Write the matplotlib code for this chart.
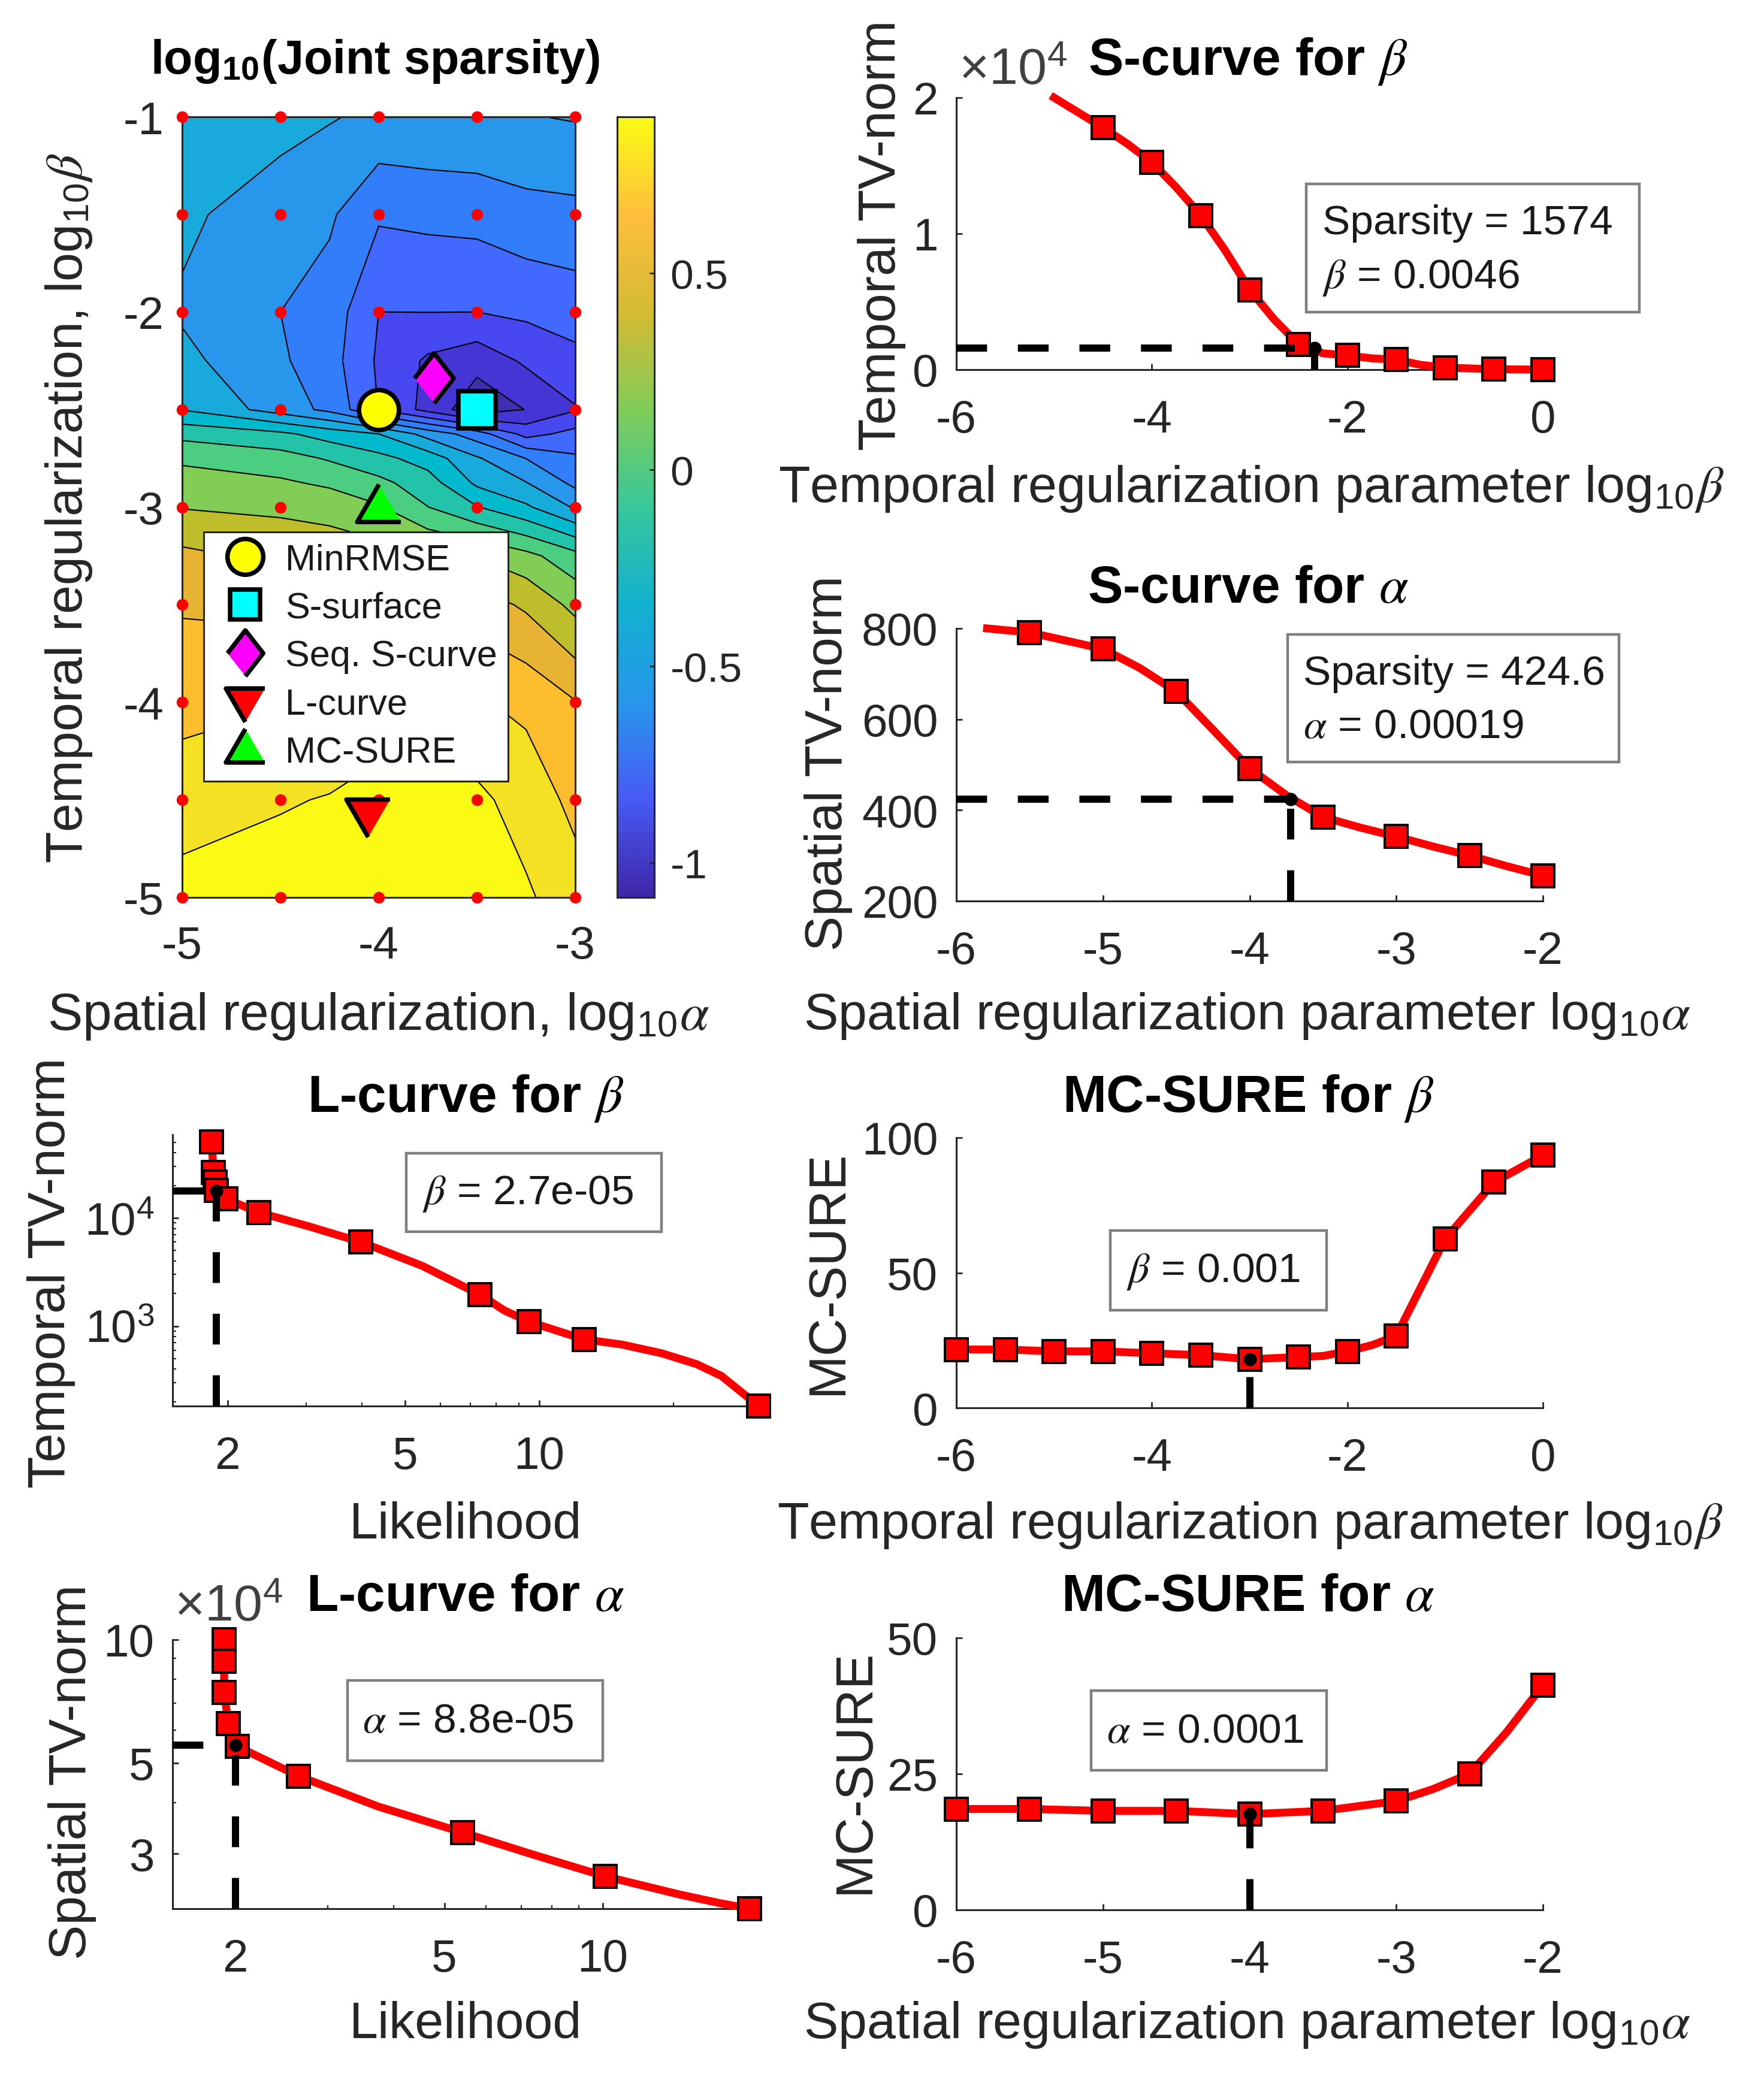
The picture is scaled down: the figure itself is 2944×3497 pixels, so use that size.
import numpy as np
import matplotlib
matplotlib.use('Agg')
from matplotlib import pyplot as plt
from matplotlib.colors import LinearSegmentedColormap, Normalize
from matplotlib.cm import ScalarMappable
from matplotlib.lines import Line2D
from matplotlib.markers import MarkerStyle
from matplotlib.patches import Rectangle
from matplotlib.ticker import LogLocator, NullFormatter

plt.rcParams['font.family'] = 'Liberation Sans'
plt.rcParams['mathtext.fontset'] = 'custom'
plt.rcParams['mathtext.rm'] = 'Liberation Sans'
plt.rcParams['mathtext.it'] = 'STIXGeneral:italic'
plt.rcParams['mathtext.bf'] = 'Liberation Sans:bold'
plt.rcParams['axes.unicode_minus'] = False

W, H = 2944, 3498
DARK = '#262626'

# joint sparsity map, rows follow spars_y, columns follow spars_x
spars_x = [-5, -4.5, -4.25, -4, -3.75, -3.5, -3.25, -3]
spars_y = [-5, -4.5, -4, -3.5, -3.25, -3, -2.875, -2.75, -2.625, -2.5, -2.25, -2, -1.5, -1]
spars_z = [
    [0.82, 0.84, 0.85, 0.87, 0.88, 0.875, 0.79, 0.70],
    [0.71, 0.76, 0.78, 0.83, 0.85, 0.80, 0.72, 0.615],
    [0.61, 0.64, 0.65, 0.68, 0.70, 0.66, 0.62, 0.53],
    [0.51, 0.49, 0.48, 0.47, 0.46, 0.46, 0.38, 0.24],
    [0.43, 0.37, 0.35, 0.33, 0.30, 0.27, 0.19, 0.07],
    [0.27, 0.25, 0.23, 0.165, 0.03, -0.09, -0.20, -0.36],
    [0.205, 0.17, 0.13, 0.06, -0.04, -0.245, -0.34, -0.50],
    [0.13, 0.08, 0.015, -0.06, -0.15, -0.33, -0.47, -0.575],
    [-0.01, -0.07, -0.15, -0.22, -0.39, -0.53, -0.76, -0.675],
    [-0.225, -0.40, -0.50, -0.72, -0.88, -1.05, -0.96, -0.85],
    [-0.31, -0.45, -0.54, -0.735, -0.86, -0.92, -0.82, -0.75],
    [-0.36, -0.468, -0.52, -0.716, -0.715, -0.716, -0.69, -0.66],
    [-0.32, -0.41, -0.45, -0.575, -0.56, -0.55, -0.51, -0.50],
    [-0.25, -0.30, -0.335, -0.37, -0.36, -0.355, -0.35, -0.335],
]
spars_levels = [-1.088, -0.964, -0.84, -0.716, -0.592, -0.468, -0.344, -0.22, -0.096,
                0.028, 0.152, 0.276, 0.40, 0.524, 0.648, 0.772, 0.898]
band_colors = ['#3F2FB0', '#4535D5', '#4848F0', '#4169FF', '#327DFA', '#2896EB', '#19AADC', '#00B9CD',
               '#23C3AA', '#4BCD82', '#82CD55', '#BEBE2D', '#E6B432', '#FCBE2D', '#F5E123', '#FAFA14']
parula_colors = ['#3E26A8', '#485BF5', '#2796EB', '#12B1CF', '#37C89A', '#81CC59', '#D4BB33', '#FDBE3D', '#F9FB15']
grid_x = [-5, -4.5, -4, -3.5, -3]
grid_y = [-5, -4.5, -4, -3.5, -3, -2.5, -2, -1.5, -1]

# selected parameters on the map
rmse_pt = (-4, -2.5)
ssurf_pt = (-3.5, -2.5)
seq_pt = (-3.72, -2.337)
lcurve_pt = (-4.056, -4.569)
sure_pt = (-4, -3)

# S-curve for beta (values in 1e4)
sb_line_x = [-5, -4.75, -4.5, -4.25, -4, -3.75, -3.5, -3.25, -3, -2.75, -2.5, -2.25, -2, -1.75, -1.5, -1.25, -1, -0.5, 0]
sb_line_y = [2.0, 1.89, 1.78, 1.66, 1.525, 1.34, 1.134, 0.876, 0.588, 0.37, 0.187, 0.12, 0.104, 0.083, 0.073, 0.035, 0.015, 0.003, 0.0]
sb_x = [-4.5, -4, -3.5, -3, -2.5, -2, -1.5, -1, -0.5, 0]
sb_y = [1.78, 1.525, 1.134, 0.588, 0.187, 0.104, 0.073, 0.015, 0.003, 0.0]

# S-curve for alpha
sa_line_x = [-5.79, -5.5, -5, -4.75, -4.5, -4.25, -4, -3.75, -3.5, -3.25, -3, -2.75, -2.5, -2.25, -2]
sa_line_y = [800, 791, 755, 713, 661, 577, 492, 433, 385, 362, 342, 320, 300, 277, 256]
sa_x = [-5.5, -5, -4.5, -4, -3.5, -3, -2.5, -2]
sa_y = [791, 755, 661, 492, 385, 342, 300, 256]

# L-curve for beta
lb_line_x = [1.845, 1.86, 1.875, 1.886, 1.985, 2.35, 3.03, 3.98, 5.47, 7.36, 8.35, 9.5, 12.6, 15.3, 18.8, 22.5, 25.6, 28.3, 31]
lb_line_y = [50800, 26350, 21400, 18000, 15040, 11250, 8410, 5997, 3600, 1955, 1393, 1094, 753, 675, 560, 445, 345, 247, 182]
lb_x = [1.845, 1.86, 1.875, 1.886, 1.985, 2.35, 3.98, 7.36, 9.5, 12.6, 31]
lb_y = [50800, 26350, 21400, 18000, 15040, 11250, 5997, 1955, 1094, 753, 182]

# MC-SURE for beta
mb_line_x = [-6, -5.5, -5, -4.5, -4, -3.5, -3, -2.5, -2.25, -2, -1.75, -1.5, -1, -0.75, -0.5, 0]
mb_line_y = [21.6, 21.6, 20.9, 20.9, 20.2, 19.5, 18, 18.8, 19.2, 20.9, 23.2, 26.6, 62.5, 73, 83.5, 93.5]
mb_x = [-6, -5.5, -5, -4.5, -4, -3.5, -3, -2.5, -2, -1.5, -1, -0.5, 0]
mb_y = [21.6, 21.6, 20.9, 20.9, 20.2, 19.5, 18, 18.8, 20.9, 26.6, 62.5, 83.5, 93.5]

# L-curve for alpha (values in 1e4)
la_line_x = [1.905, 1.905, 1.905, 1.94, 2.02, 2.64, 3.74, 5.41, 7.33, 10.1, 14.06, 16.7, 19.06]
la_line_y = [10.0, 8.85, 7.44, 6.24, 5.48, 4.64, 3.91, 3.38, 2.99, 2.64, 2.38, 2.27, 2.2]
la_x = [1.905, 1.905, 1.905, 1.94, 2.02, 2.64, 5.41, 10.1, 19.06]
la_y = [10.0, 8.85, 7.44, 6.24, 5.48, 4.64, 3.38, 2.64, 2.2]

# MC-SURE for alpha
ma_line_x = [-6, -5.5, -5, -4.5, -4, -3.5, -3, -2.75, -2.5, -2.25, -2]
ma_line_y = [18.55, 18.55, 18.2, 18.2, 17.6, 18.2, 20.0, 22.2, 25, 32.6, 41.3]
ma_x = [-6, -5.5, -5, -4.5, -4, -3.5, -3, -2.5, -2]
ma_y = [18.55, 18.55, 18.2, 18.2, 17.6, 18.2, 20.0, 25, 41.3]

TRI_UP = MarkerStyle([(0, 0.62), (-0.58, -0.38), (0.58, -0.38)], joinstyle='miter')
TRI_DOWN = MarkerStyle([(0, -0.62), (-0.58, 0.38), (0.58, 0.38)], joinstyle='miter')
THIN_DIAMOND = MarkerStyle([(-0.39, 0), (0, 0.5), (0.39, 0), (0, -0.5)], joinstyle='miter')


def px_axes(fig, x0, x1, y0, y1):
    return fig.add_axes([x0 / W, 1 - y1 / H, (x1 - x0) / W, (y1 - y0) / H])


def put(fig, x, y, s, **kw):
    kw.setdefault('color', DARK)
    return fig.text(x / W, 1 - y / H, s, **kw)


def put_ylabel(fig, x, y, s, size=63):
    put(fig, x, y, s, rotation=90, rotation_mode='anchor', ha='center', va='baseline', fontsize=size)


def put_xlabel(fig, x, y, s, size=62):
    put(fig, x, y, s, ha='center', va='baseline', fontsize=size)


def put_title(fig, x, y, s, size=63):
    put(fig, x, y, s, ha='center', va='baseline', fontsize=size, fontweight='bold', color='black')


def put_box(fig, x0, x1, y0, y1, lines):
    fig.add_artist(Rectangle((x0 / W, 1 - y1 / H), (x1 - x0) / W, (y1 - y0) / H, transform=fig.transFigure,
                             facecolor='white', edgecolor='#7f7f7f', linewidth=3.2, zorder=2))
    for tx, ty, s in lines:
        put(fig, tx, ty, s, fontsize=50, color='#1a1a1a', zorder=3)


def style_curve(ax, size=55):
    ax.spines['top'].set_visible(False)
    ax.spines['right'].set_visible(False)
    for side in ['left', 'bottom']:
        ax.spines[side].set_color(DARK)
        ax.spines[side].set_linewidth(2.2)
    ax.tick_params(which='major', direction='in', length=7, width=2, color=DARK, labelcolor=DARK,
                   labelsize=size, pad=22)
    ax.tick_params(axis='x', which='major', pad=35)
    ax.tick_params(which='minor', direction='in', length=4, width=1.5, color=DARK)
    ax.patch.set_alpha(0)


def draw_curve(ax, line_x, line_y, xs, ys, knee_x, knee_y, x_start, y_start):
    ax.plot(line_x, line_y, color='red', lw=9.5, clip_on=False, zorder=4)
    ax.plot(xs, ys, ls='none', marker='s', ms=28, mfc='red', mec='black', mew=2.8, clip_on=False, zorder=5)
    dash = (0, (4.3, 4.3))
    ax.plot([x_start, knee_x], [knee_y, knee_y], color='black', lw=8.6, ls=dash, dash_capstyle='butt', zorder=6)
    ax.plot([knee_x, knee_x], [y_start, knee_y], color='black', lw=8.6, ls=dash, dash_capstyle='butt', zorder=6)
    ax.plot([knee_x], [knee_y], ls='none', marker='o', ms=15, color='black', zorder=7)


def log_minor(axis):
    axis.set_minor_locator(LogLocator(base=10, subs=np.arange(1, 10) * 1.0, numticks=12))
    axis.set_minor_formatter(NullFormatter())


def sparsity_panel(fig):
    ax = px_axes(fig, 304, 960, 196, 1499)
    ax.contourf(spars_x, spars_y, spars_z, levels=spars_levels, colors=band_colors)
    ax.contour(spars_x, spars_y, spars_z, levels=spars_levels[1:-1], colors='black', linewidths=1.5,
               linestyles='solid')
    ax.set_xlim(-5, -3)
    ax.set_ylim(-5, -1)
    ax.set_xticks([-5, -4, -3])
    ax.set_xticklabels(['-5', '-4', '-3'])
    ax.set_yticks([-5, -4, -3, -2, -1])
    ax.set_yticklabels(['-5', '-4', '-3', '-2', '-1'])
    ax.tick_params(direction='in', length=7, width=2, color=DARK, labelcolor=DARK, labelsize=55, pad=22)
    ax.tick_params(axis='x', pad=33)
    ax.set_axisbelow(False)
    for s in ax.spines.values():
        s.set_color(DARK)
        s.set_linewidth(2.2)
        s.set_zorder(3)

    gx, gy = np.meshgrid(grid_x, grid_y)
    ax.plot(gx.ravel(), gy.ravel(), ls='none', marker='o', ms=14, color='red', mew=0, clip_on=False, zorder=4)

    kw = dict(ls='none', mec='black', mew=5.4, clip_on=False, zorder=5)
    ax.plot(*rmse_pt, marker='o', ms=48, mfc='yellow', **kw)
    ax.plot(*ssurf_pt, marker='s', ms=45, mfc='cyan', **kw)
    ax.plot(*seq_pt, marker=THIN_DIAMOND, ms=60, mfc='magenta', **kw)
    ax.plot(*lcurve_pt, marker=TRI_DOWN, ms=56, mfc='red', **kw)
    ax.plot(*sure_pt, marker=TRI_UP, ms=56, mfc='#00ff00', **kw)

    lkw = dict(ls='none', mec='black', mew=5.4)
    handles = [Line2D([], [], marker='o', ms=43, mfc='yellow', **lkw),
               Line2D([], [], marker='s', ms=36, mfc='cyan', **lkw),
               Line2D([], [], marker=THIN_DIAMOND, ms=55, mfc='magenta', **lkw),
               Line2D([], [], marker=TRI_DOWN, ms=50, mfc='red', **lkw),
               Line2D([], [], marker=TRI_UP, ms=50, mfc='#00ff00', **lkw)]
    labels = ['MinRMSE', 'S-surface', 'Seq. S-curve', 'L-curve', 'MC-SURE']
    leg = ax.legend(handles, labels, loc='upper left', bbox_to_anchor=(340 / W, 1 - 889 / H),
                    bbox_transform=fig.transFigure, borderaxespad=0, fontsize=44, fancybox=False,
                    framealpha=1, edgecolor=DARK, labelspacing=0.384, handlelength=1.67, handletextpad=0.26,
                    borderpad=0.3, labelcolor='#1a1a1a')
    leg.get_frame().set_linewidth(2.2)
    leg.set_zorder(6)

    cax = px_axes(fig, 1030, 1092, 196, 1499)
    cmap = LinearSegmentedColormap.from_list('parula', parula_colors)
    cb = fig.colorbar(ScalarMappable(Normalize(-1.088, 0.898), cmap), cax=cax)
    cb.set_ticks([-1, -0.5, 0, 0.5])
    cb.set_ticklabels(['-1', '-0.5', '0', '0.5'])
    cax.tick_params(direction='in', length=6, width=2, color=DARK, labelcolor=DARK, labelsize=50, pad=19)
    cb.outline.set_edgecolor(DARK)
    cb.outline.set_linewidth(2.2)

    put_title(fig, 626, 123, r'log$_{\mathbf{10}}$(Joint sparsity)', size=57)
    put_xlabel(fig, 632, 1719, r'Spatial regularization, log$_{10}\alpha$', size=63)
    put_ylabel(fig, 137, 848, r'Temporal regularization, log$_{10}\beta$', size=62)


def main():
    fig = plt.figure(figsize=(W / 100, H / 100), dpi=100)
    sparsity_panel(fig)

    # S-curve beta
    ax = px_axes(fig, 1596, 2575, 164, 618)
    draw_curve(ax, sb_line_x, sb_line_y, sb_x, sb_y, -2.337, 0.157, -6, 0)
    ax.set_xlim(-6, 0)
    ax.set_ylim(0, 2)
    ax.set_xticks([-6, -4, -2, 0])
    ax.set_xticklabels(['-6', '-4', '-2', '0'])
    ax.set_yticks([0, 1, 2])
    style_curve(ax)
    put(fig, 1600, 141, r'$\times$10$^{4}$', fontsize=62, color='#404040')
    put_title(fig, 2083, 125, r'S-curve for $\beta$')
    put_xlabel(fig, 2088, 838, r'Temporal regularization parameter log$_{10}\beta$')
    put_ylabel(fig, 1494, 393, 'Temporal TV-norm')
    put_box(fig, 2180, 2736, 308, 522, [(2207, 391, 'Sparsity = 1574'), (2207, 481, r'$\beta$ = 0.0046')])

    # S-curve alpha
    ax = px_axes(fig, 1596, 2575, 1050, 1505)
    draw_curve(ax, sa_line_x, sa_line_y, sa_x, sa_y, -3.72, 424.6, -6, 200)
    ax.set_xlim(-6, -2)
    ax.set_ylim(200, 800)
    ax.set_xticks([-6, -5, -4, -3, -2])
    ax.set_xticklabels(['-6', '-5', '-4', '-3', '-2'])
    ax.set_yticks([200, 400, 600, 800])
    style_curve(ax)
    put_title(fig, 2083, 1006, r'S-curve for $\alpha$')
    put_xlabel(fig, 2082, 1718, r'Spatial regularization parameter log$_{10}\alpha$')
    put_ylabel(fig, 1405, 1274, 'Spatial TV-norm')
    put_box(fig, 2149, 2702, 1060, 1273, [(2175, 1143, 'Sparsity = 424.6'), (2175, 1232, r'$\alpha$ = 0.00019')])

    # L-curve beta
    ax = px_axes(fig, 288, 1266, 1895, 2348)
    ax.set_xscale('log')
    ax.set_yscale('log')
    draw_curve(ax, lb_line_x, lb_line_y, lb_x, lb_y, 1.89, 17800, 1.507, 182)
    ax.set_xlim(1.507, 31)
    ax.set_ylim(182, 59000)
    ax.set_xticks([2, 5, 10])
    ax.set_xticklabels(['2', '5', '10'])
    ax.set_yticks([1000, 10000])
    ax.set_yticklabels(['10$^{3}$', '10$^{4}$'])
    log_minor(ax.xaxis)
    log_minor(ax.yaxis)
    style_curve(ax)
    put_title(fig, 777, 1856, r'L-curve for $\beta$')
    put_xlabel(fig, 777, 2568, 'Likelihood')
    put_ylabel(fig, 108, 2125, 'Temporal TV-norm')
    put_box(fig, 678, 1104, 1926, 2057, [(705, 2010, r'$\beta$ = 2.7e-05')])

    # MC-SURE beta
    ax = px_axes(fig, 1596, 2575, 1900, 2351)
    draw_curve(ax, mb_line_x, mb_line_y, mb_x, mb_y, -3, 18, -3, 0)
    ax.set_xlim(-6, 0)
    ax.set_ylim(0, 100)
    ax.set_xticks([-6, -4, -2, 0])
    ax.set_xticklabels(['-6', '-4', '-2', '0'])
    ax.set_yticks([0, 50, 100])
    style_curve(ax)
    put_title(fig, 2083, 1856, r'MC-SURE for $\beta$')
    put_xlabel(fig, 2086, 2568, r'Temporal regularization parameter log$_{10}\beta$')
    put_ylabel(fig, 1405, 2124, 'MC-SURE')
    put_box(fig, 1853, 2214, 2055, 2188, [(1880, 2140, r'$\beta$ = 0.001')])

    # L-curve alpha
    ax = px_axes(fig, 288, 1266, 2738, 3187)
    ax.set_xscale('log')
    ax.set_yscale('log')
    draw_curve(ax, la_line_x, la_line_y, la_x, la_y, 2.0, 5.53, 1.52, 2.2)
    ax.set_xlim(1.52, 19.8)
    ax.set_ylim(2.2, 10)
    ax.set_xticks([2, 5, 10])
    ax.set_xticklabels(['2', '5', '10'])
    ax.set_yticks([3, 5, 10])
    ax.set_yticklabels(['3', '5', '10'])
    log_minor(ax.xaxis)
    log_minor(ax.yaxis)
    style_curve(ax)
    put(fig, 291, 2706, r'$\times$10$^{4}$', fontsize=62, color='#404040')
    put_title(fig, 777, 2689, r'L-curve for $\alpha$')
    put_xlabel(fig, 777, 3402, 'Likelihood')
    put_ylabel(fig, 143, 2958, 'Spatial TV-norm')
    put_box(fig, 580, 1006, 2806, 2940, [(605, 2892, r'$\alpha$ = 8.8e-05')])

    # MC-SURE alpha
    ax = px_axes(fig, 1596, 2575, 2735, 3189)
    draw_curve(ax, ma_line_x, ma_line_y, ma_x, ma_y, -4, 17.6, -4, 0)
    ax.set_xlim(-6, -2)
    ax.set_ylim(0, 50)
    ax.set_xticks([-6, -5, -4, -3, -2])
    ax.set_xticklabels(['-6', '-5', '-4', '-3', '-2'])
    ax.set_yticks([0, 25, 50])
    style_curve(ax)
    put_title(fig, 2083, 2689, r'MC-SURE for $\alpha$')
    put_xlabel(fig, 2082, 3402, r'Spatial regularization parameter log$_{10}\alpha$')
    put_ylabel(fig, 1450, 2957, 'MC-SURE')
    put_box(fig, 1821, 2214, 2823, 2956, [(1847, 2909, r'$\alpha$ = 0.0001')])

    fig.savefig('out.png', dpi=100)


main()
